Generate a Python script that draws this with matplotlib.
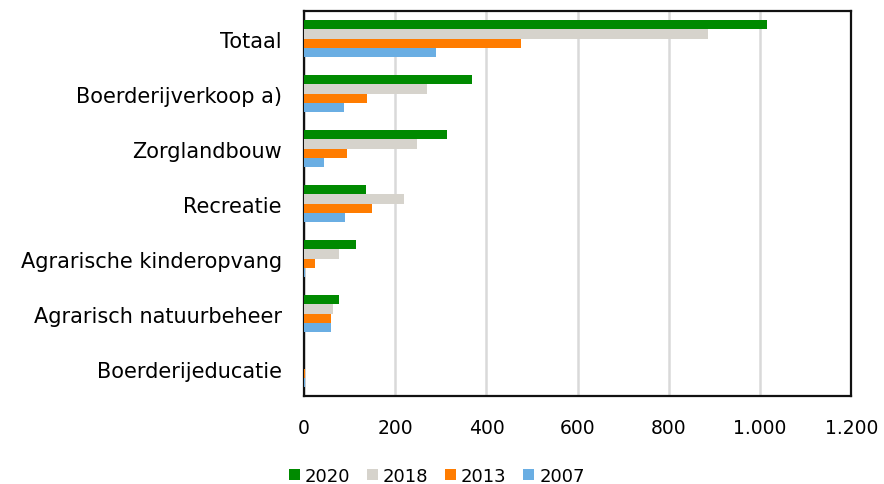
import matplotlib.pyplot as plt
import matplotlib.ticker as mticker
import numpy as np

categories = ['Totaal', 'Boerderijverkoop a)', 'Zorglandbouw', 'Recreatie',
              'Agrarische kinderopvang', 'Agrarisch natuurbeheer', 'Boerderijeducatie']
years = ['2020', '2018', '2013', '2007']
v2020 = [1015, 368, 313, 136, 114, 76, 0]
v2018 = [885, 269, 248, 219, 76, 64, 0]
v2013 = [476, 139, 93, 149, 24, 59, 1]
v2007 = [290, 87, 43, 90, 3, 60, 1]
colors = ['#008a00', '#d6d3cc', '#ff7c00', '#6aaee3']

series = [v2020, v2018, v2013, v2007]

fig = plt.figure(figsize=(8.84, 4.85), dpi=100)
ax = fig.add_axes([0.344, 0.181, 0.619, 0.794])

y = np.arange(len(categories))
h = 0.17
for i, (vals, yr, c) in enumerate(zip(series, years, colors)):
    ax.barh(y - 1.5 * h + i * h, vals, height=h, color=c, label=yr, zorder=3)

ax.set_ylim(len(categories) - 0.5, -0.5)
ax.set_yticks(y)
ax.set_yticklabels(categories, fontsize=15)
ax.set_xlim(0, 1200)
ax.set_xticks(range(0, 1201, 200))
ax.xaxis.set_major_formatter(mticker.FuncFormatter(lambda v, p: '{:,}'.format(int(v)).replace(',', '.')))
ax.tick_params(axis='x', labelsize=13.5, length=0, pad=16)
ax.tick_params(axis='y', length=0, pad=16)
ax.grid(axis='x', color='#d9d9d9', linewidth=1.8, zorder=0)
for s in ax.spines.values():
    s.set_linewidth(1.6)
    s.set_color('#111111')

fig.legend(loc='lower center', bbox_to_anchor=(0.494, -0.035), ncol=4, frameon=False,
           fontsize=13, handlelength=0.6, handleheight=0.6, handletextpad=0.3, columnspacing=0.9)

fig.savefig('out.png', dpi=100)
